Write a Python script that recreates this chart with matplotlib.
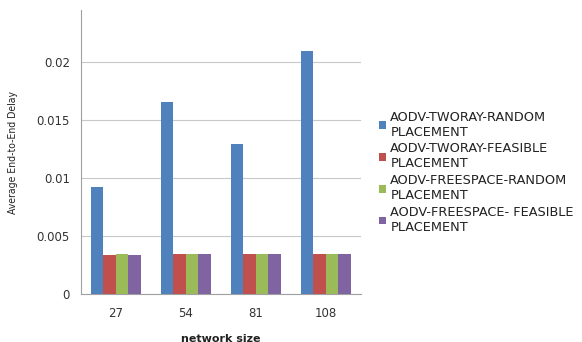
import numpy as np
import matplotlib
matplotlib.use("Agg")
import matplotlib.pyplot as plt

# network sizes and delay per scenario
sizes = ["27", "54", "81", "108"]
tworay_random = [0.00922, 0.01655, 0.01293, 0.02095]
tworay_feasible = [0.00336, 0.00345, 0.0035, 0.0035]
freespace_random = [0.0035, 0.00345, 0.0035, 0.0035]
freespace_feasible = [0.00338, 0.00345, 0.00345, 0.0035]

labels = ["AODV-TWORAY-RANDOM\nPLACEMENT",
          "AODV-TWORAY-FEASIBLE\nPLACEMENT",
          "AODV-FREESPACE-RANDOM\nPLACEMENT",
          "AODV-FREESPACE- FEASIBLE\nPLACEMENT"]
colors = ["#4F81BD", "#C0504D", "#9BBB59", "#8064A2"]

fig = plt.figure(figsize=(5.82, 3.42), dpi=100)
ax = fig.add_axes([0.139, 0.140, 0.481, 0.831])

series = [tworay_random, tworay_feasible, freespace_random, freespace_feasible]
x = np.arange(len(sizes))
w = 0.18
bars = []
for i, vals in enumerate(series):
    b = ax.bar(x + (i - 1.5) * w, vals, w, color=colors[i], zorder=3)
    bars.append(b)

ax.set_xlim(-0.5, len(sizes) - 0.5)
ax.set_ylim(0, 0.0245)
ax.set_yticks([0, 0.005, 0.01, 0.015, 0.02])
ax.set_yticklabels(["0", "0.005", "0.01", "0.015", "0.02"])
ax.set_xticks(x)
ax.set_xticklabels(sizes)
ax.tick_params(axis="both", length=0, labelsize=8.5, colors="#333333")
ax.tick_params(axis="y", pad=8)
ax.tick_params(axis="x", pad=9)
ax.yaxis.grid(True, color="#c8c8c8", linewidth=0.8, zorder=0)
for s in ["top", "right"]:
    ax.spines[s].set_visible(False)
ax.spines["left"].set_color("#a0a0a0")
ax.spines["bottom"].set_color("#a0a0a0")

ax.set_ylabel("Average End-to-End Delay", fontsize=7.5, color="#222222",
              fontstretch="condensed", labelpad=13)
ax.set_xlabel("network size", fontsize=8, fontweight="bold", color="#222222",
              labelpad=10)

fig.legend(bars, labels, loc="upper left", bbox_to_anchor=(0.643, 0.692),
           frameon=False, fontsize=9.3, handlelength=0.55, handleheight=0.55,
           handletextpad=0.3, labelspacing=0.3, labelcolor="#222222",
           borderaxespad=0)

fig.savefig("out.png", dpi=100)
